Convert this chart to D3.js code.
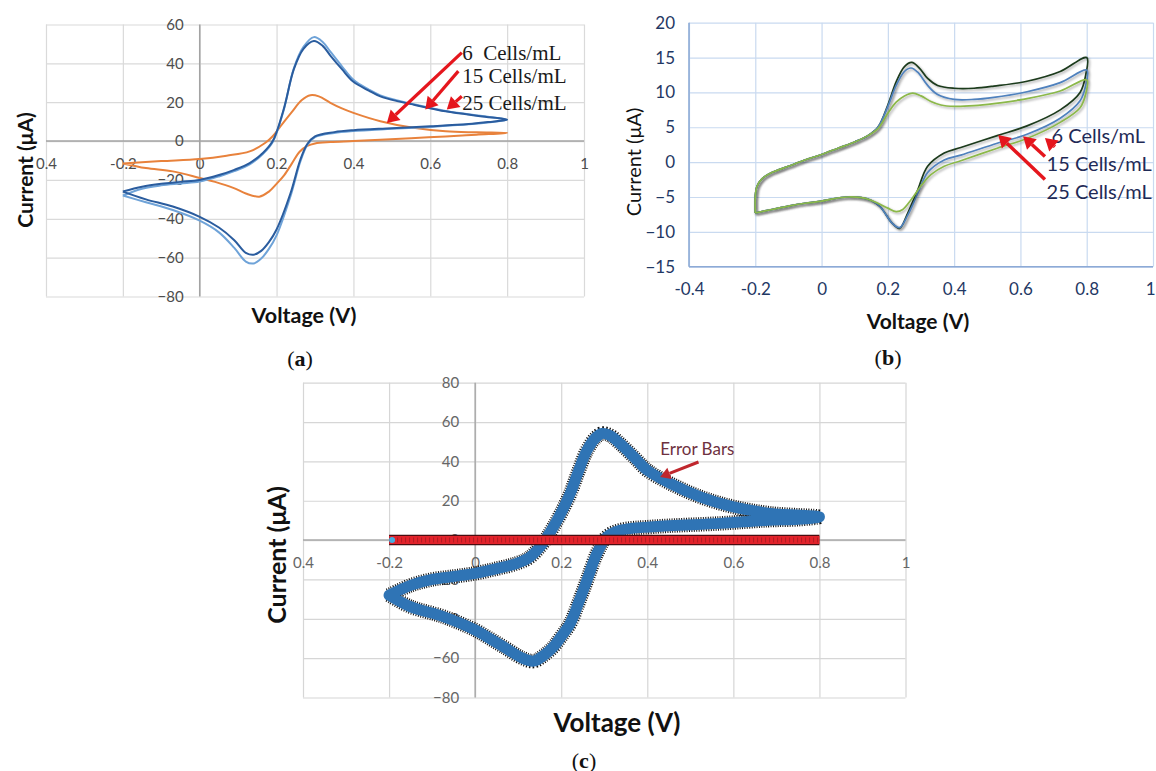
<!DOCTYPE html>
<html>
<head>
<meta charset="utf-8">
<script src="https://cdn.jsdelivr.net/npm/d3@7/dist/d3.min.js"></script>
<style>
body { margin: 0; background: #fff; }
svg { display: block; }
text { white-space: pre; }
</style>
</head>
<body>
<svg width="1156" height="771"></svg>
<script>
// ---- shared axis ticks
const xTicks = [-0.4, -0.2, 0, 0.2, 0.4, 0.6, 0.8, 1];

// ---- panel (a)
const aXLabels = ["0.4", "-0.2", "0", "0.2", "0.4", "0.6", "0.8", "1"];
const aYTicks = [60, 40, 20, 0, -20, -40, -60, -80];
const aLegend = ["6  Cells/mL", "15 Cells/mL", "25 Cells/mL"];
const aDarkBlue = [
 [-0.2, -26], [-0.15, -23.5], [-0.1, -22], [-0.05, -21], [0, -20], [0.05, -17.5], [0.09, -14.8],
 [0.13, -11.3], [0.165, -6], [0.19, 0], [0.218, 16], [0.245, 37], [0.27, 47.5], [0.297, 51.5],
 [0.32, 49], [0.34, 44], [0.37, 37], [0.4, 30.5], [0.44, 26], [0.47, 23], [0.52, 20.3],
 [0.56, 18.6], [0.64, 15.3], [0.73, 12.8], [0.8, 11],
 [0.75, 9.8], [0.7, 8.8], [0.6, 7.6], [0.5, 6.6], [0.4, 5.6], [0.35, 4.6], [0.3, 2.4], [0.28, -1.5],
 [0.262, -9.5], [0.236, -27], [0.2, -45.5], [0.18, -52], [0.16, -56.5], [0.14, -58.5], [0.12, -57.5],
 [0.09, -51], [0.05, -44.5], [0, -39], [-0.07, -33.7], [-0.14, -30], [-0.2, -26]
];
const aLightBlue = [
 [-0.2, -28], [-0.15, -24.5], [-0.1, -22.8], [-0.05, -21.8], [0, -20.8], [0.05, -18.2], [0.09, -15.5],
 [0.13, -12], [0.165, -6.5], [0.19, -0.5], [0.218, 15.5], [0.245, 37.5], [0.27, 48.5], [0.297, 53.5],
 [0.32, 51], [0.34, 46], [0.37, 38.5], [0.4, 31.5], [0.44, 26.5], [0.47, 23.5], [0.52, 20.6],
 [0.56, 18.8], [0.64, 15.5], [0.73, 13], [0.8, 11],
 [0.75, 9.6], [0.7, 8.6], [0.6, 7.3], [0.5, 6.3], [0.4, 5.2], [0.35, 4.2], [0.3, 2], [0.28, -2],
 [0.262, -10.5], [0.236, -28.5], [0.2, -48.5], [0.18, -55.5], [0.16, -60.5], [0.14, -63], [0.12, -62],
 [0.09, -55], [0.05, -47], [0, -41], [-0.07, -35.5], [-0.14, -31.5], [-0.2, -28]
];
const aOrange = [
 [-0.2, -11.5], [-0.1, -10.3], [0, -9.2], [0.07, -7.5], [0.13, -5.3], [0.17, -1], [0.19, 2.5],
 [0.21, 7.6], [0.24, 15], [0.265, 21], [0.288, 23.6], [0.31, 23], [0.34, 19.7], [0.37, 16.8],
 [0.4, 14.5], [0.47, 10.2], [0.556, 6.8], [0.64, 5], [0.72, 4.5], [0.8, 4.2],
 [0.72, 3.3], [0.64, 2.4], [0.55, 1.5], [0.47, 0.7], [0.4, 0], [0.34, -0.5], [0.3, -1.2], [0.28, -2.5],
 [0.26, -5.5], [0.24, -11.5], [0.22, -17.5], [0.2, -22], [0.18, -26], [0.155, -28.6], [0.12, -27],
 [0.089, -24.2], [0.04, -21], [0, -19], [-0.07, -15.6], [-0.14, -13.9], [-0.2, -11.5]
];
// legend text anchors and arrows (voltage, current)
const aLegendPos = [[0.683, 45.5], [0.683, 33.4], [0.683, 19.7]];
const aArrows = [
 [[0.682, 45.5], [0.487, 9.3]],
 [[0.673, 36], [0.587, 16.2]],
 [[0.682, 23.1], [0.643, 16.2]]
];

// ---- panel (b)
const bXLabels = ["-0.4", "-0.2", "0", "0.2", "0.4", "0.6", "0.8", "1"];
const bYTicks = [20, 15, 10, 5, 0, -5, -10, -15];
const bLegend = ["6 Cells/mL", "15 Cells/mL", "25 Cells/mL"];
const bShared = [
 [-0.2, -7.3], [-0.2, -5], [-0.195, -3.5], [-0.18, -2.4], [-0.15, -1.5], [-0.1, -0.6],
 [-0.05, 0.3], [0, 1.1], [0.05, 2], [0.1, 2.9], [0.14, 3.8]
];
const bSharedBack = [
 [0.12, -5.1], [0.08, -5], [0.03, -5.3], [0, -5.6], [-0.05, -5.9], [-0.1, -6.3], [-0.15, -6.8], [-0.2, -7.3]
];
const bDark = [
 [0.17, 5], [0.2, 8.2], [0.225, 11.5], [0.25, 13.7], [0.272, 14.3], [0.295, 13.5], [0.32, 12],
 [0.35, 11], [0.4, 10.6], [0.46, 10.6], [0.52, 10.9], [0.62, 11.6], [0.72, 13], [0.8, 15],
 [0.797, 12.5], [0.78, 10], [0.72, 7.5], [0.62, 5.2], [0.53, 3.8], [0.42, 2.1], [0.37, 1.3],
 [0.32, -0.6], [0.29, -4], [0.26, -7.3], [0.235, -9.5], [0.212, -8.7], [0.177, -6.4], [0.15, -5.5]
];
const bBlue = [
 [0.17, 5], [0.2, 8], [0.225, 11], [0.25, 13], [0.27, 13.5], [0.29, 12.9], [0.32, 11],
 [0.35, 9.7], [0.4, 9], [0.46, 9], [0.52, 9.3], [0.62, 10.1], [0.72, 11.4], [0.8, 13.2],
 [0.797, 11], [0.78, 8.8], [0.72, 6.3], [0.62, 4], [0.53, 2.7], [0.42, 1], [0.37, 0.3],
 [0.32, -1.5], [0.29, -4.5], [0.26, -7.6], [0.235, -9.4], [0.212, -8.7], [0.177, -6.4], [0.15, -5.5]
];
const bGreen = [
 [0.17, 4.8], [0.2, 7], [0.225, 8.6], [0.25, 9.5], [0.275, 9.9], [0.3, 9.5], [0.33, 8.7],
 [0.36, 8.2], [0.4, 8], [0.46, 8.1], [0.52, 8.4], [0.62, 9.1], [0.72, 10.2], [0.8, 11.8],
 [0.797, 9.8], [0.78, 7.8], [0.72, 5.7], [0.62, 3.4], [0.53, 2], [0.42, 0.2], [0.37, -0.6],
 [0.33, -1.8], [0.3, -3.4], [0.27, -5.4], [0.245, -6.8], [0.225, -7.1], [0.2, -6.6], [0.17, -5.9],
 [0.145, -5.4]
];
const bLegendPos = [[0.694, 3.9], [0.679, -0.15], [0.679, -4.2]];
const bArrows = [
 [[0.674, -2.5], [0.533, 3.9]],
 [[0.674, 0.8], [0.608, 3.7]],
 [[0.704, 2.2], [0.674, 3.45]]
];

// ---- panel (c)
const cXLabels = ["0.4", "-0.2", "0", "0.2", "0.4", "0.6", "0.8", "1"];
const cYTicks = [80, 60, 40, 20, 0, -20, -40, -60, -80];
const cBlue = [
 [-0.2, -28], [-0.15, -23], [-0.1, -20], [-0.05, -18.5], [0, -16.9], [0.05, -14.5], [0.097, -11.8],
 [0.125, -9], [0.151, -3.4], [0.167, 1.5], [0.182, 6.8], [0.2, 14], [0.221, 23.7], [0.24, 35],
 [0.26, 45.7], [0.28, 52], [0.295, 54.2], [0.315, 53], [0.337, 49], [0.37, 42], [0.4, 35.5],
 [0.453, 28.8], [0.523, 22], [0.6, 16.9], [0.686, 13.6], [0.8, 11.8],
 [0.75, 10.6], [0.68, 10.1], [0.57, 8.5], [0.415, 6.8], [0.337, 5], [0.306, 1.7], [0.283, -6.8],
 [0.26, -20.3], [0.24, -32], [0.221, -42.3], [0.2, -49], [0.182, -54.2], [0.16, -58.5],
 [0.136, -61.5], [0.11, -60], [0.066, -54.2], [0.03, -49.5], [0, -45.7], [-0.074, -38.9],
 [-0.151, -33.8], [-0.2, -28]
];
const cErrV = [-0.2, 0.8];
const cErrI = [0, 0];
const cNote = "Error Bars";
const cNotePos = [0.43, 46.5];
const cArrow = [[0.519, 39.7], [0.43, 32.1]];

const svg = d3.select("svg");

svg.append("defs").append("filter")
 .attr("id", "shadow")
 .attr("x", "-5%").attr("y", "-5%").attr("width", "110%").attr("height", "110%")
 .append("feDropShadow")
 .attr("dx", 1.5).attr("dy", 1.5).attr("stdDeviation", 1.3)
 .attr("flood-color", "#000").attr("flood-opacity", 0.35);

function panel(o) {
 const g = svg.append("g");
 const x = d3.scaleLinear().domain([-0.4, 1]).range([o.left, o.right]);
 const y = d3.scaleLinear().domain(o.yDomain).range([o.bottom, o.top]);

 g.append("g")
  .attr("transform", `translate(0,${o.bottom})`)
  .call(d3.axisBottom(x).tickValues(xTicks).tickSize(-(o.bottom - o.top)).tickFormat(""))
  .call(s => s.select(".domain").remove())
  .selectAll("line").attr("stroke", o.grid).attr("stroke-width", 1.2);

 g.append("g")
  .attr("transform", `translate(${o.left},0)`)
  .call(d3.axisLeft(y).tickValues(o.yTicks).tickSize(-(o.right - o.left)).tickFormat(""))
  .call(s => s.select(".domain").remove())
  .selectAll("line").attr("stroke", o.grid).attr("stroke-width", 1.2);

 return { g, x, y };
}

function tickLabels(p, o, xAt, yAt) {
 const xa = p.g.append("g")
  .attr("transform", `translate(0,${xAt})`)
  .call(d3.axisBottom(p.x).tickValues(xTicks).tickSize(0).tickPadding(o.xPad)
   .tickFormat((d, i) => o.xLabels[i]));
 const ya = p.g.append("g")
  .attr("transform", `translate(${yAt},0)`)
  .call(d3.axisLeft(p.y).tickValues(o.yTicks).tickSize(0).tickPadding(o.yPad));
 [xa, ya].forEach(a => {
  a.select(".domain").remove();
  a.selectAll("text")
   .attr("font-family", "Lato, sans-serif")
   .attr("font-size", o.tickSize)
   .attr("fill", o.tickColor);
 });
 return xa;
}

function arrow(p, from, to, color, width, head) {
 const x0 = p.x(from[0]), y0 = p.y(from[1]);
 const x1 = p.x(to[0]), y1 = p.y(to[1]);
 const ang = Math.atan2(y1 - y0, x1 - x0);
 const bx = x1 - Math.cos(ang) * head, by = y1 - Math.sin(ang) * head;
 p.g.append("line")
  .attr("x1", x0).attr("y1", y0).attr("x2", bx).attr("y2", by)
  .attr("stroke", color).attr("stroke-width", width);
 const w = head * 0.6;
 p.g.append("polygon")
  .attr("points", [
   [x1, y1],
   [bx + Math.sin(ang) * w, by - Math.cos(ang) * w],
   [bx - Math.sin(ang) * w, by + Math.cos(ang) * w]
  ].map(q => q.join(",")).join(" "))
  .attr("fill", color);
}

function title(x, y, txt, size, weight, rotate) {
 svg.append("text")
  .attr("transform", `translate(${x},${y})` + (rotate ? " rotate(-90)" : ""))
  .attr("text-anchor", "middle")
  .attr("dominant-baseline", "central")
  .attr("font-family", "Lato, sans-serif")
  .attr("font-size", size)
  .attr("font-weight", weight)
  .attr("fill", "#111")
  .text(txt);
}

function panelTag(x, y, letter) {
 const t = svg.append("text")
  .attr("x", x).attr("y", y)
  .attr("text-anchor", "middle")
  .attr("dominant-baseline", "central")
  .attr("font-family", "'Liberation Serif', serif")
  .attr("font-size", 22)
  .attr("fill", "#111");
 t.append("tspan").text("(");
 t.append("tspan").attr("font-weight", "bold").text(letter);
 t.append("tspan").text(")");
}

const smooth = d3.curveCatmullRom.alpha(0.5);

// ================= panel (a)
const oa = { left: 46, right: 584, top: 24.5, bottom: 296.5, yDomain: [-80, 60], yTicks: aYTicks,
 grid: "#dadada", xLabels: aXLabels, xPad: 17, yPad: 16, tickSize: 15, tickColor: "#4d4d4d" };
const pa = panel(oa);
pa.g.append("line").attr("x1", pa.x(0)).attr("x2", pa.x(0)).attr("y1", oa.top).attr("y2", oa.bottom)
 .attr("stroke", "#a3a3a3").attr("stroke-width", 1.5);
pa.g.append("line").attr("x1", oa.left).attr("x2", oa.right).attr("y1", pa.y(0)).attr("y2", pa.y(0))
 .attr("stroke", "#a3a3a3").attr("stroke-width", 1.5);
tickLabels(pa, oa, pa.y(0), pa.x(0));

const lineA = d3.line().x(d => pa.x(d[0])).y(d => pa.y(d[1])).curve(smooth);
[[aOrange, "#e8823c"], [aLightBlue, "#6fa3d8"], [aDarkBlue, "#2a5c9e"]].forEach(([d, c]) => {
 pa.g.append("path").datum(d).attr("d", lineA)
  .attr("fill", "none").attr("stroke", c).attr("stroke-width", 2).attr("stroke-linejoin", "round");
});

aLegend.forEach((t, i) => {
 pa.g.append("text")
  .attr("x", pa.x(aLegendPos[i][0])).attr("y", pa.y(aLegendPos[i][1]))
  .attr("dominant-baseline", "central")
  .attr("font-family", "'Liberation Serif', serif")
  .attr("font-size", 21).attr("fill", "#1a1a1a")
  .text(t);
});
aArrows.forEach(a => arrow(pa, a[0], a[1], "#e5161d", 3.2, 12));

title(24, 170, "Current (μA)", 21, "bold", true);
title(304, 315, "Voltage (V)", 21.5, "bold", false);
panelTag(300, 358, "a");

// ================= panel (b)
const ob = { left: 689, right: 1153, top: 22.7, bottom: 266.7, yDomain: [-15, 20], yTicks: bYTicks,
 grid: "#c9daf0", xLabels: bXLabels, xPad: 16, yPad: 14, tickSize: 17, tickColor: "#1f3864" };
const pb = panel(ob);
pb.g.append("line").attr("x1", ob.left).attr("x2", ob.left).attr("y1", ob.top).attr("y2", ob.bottom)
 .attr("stroke", "#8daad6").attr("stroke-width", 1.6);
pb.g.append("line").attr("x1", ob.left).attr("x2", ob.right).attr("y1", ob.bottom).attr("y2", ob.bottom)
 .attr("stroke", "#8daad6").attr("stroke-width", 1.6);
const bxa = tickLabels(pb, ob, ob.bottom, ob.left);
// last x label sits on the page edge; keep it inside
bxa.selectAll(".tick text").filter(d => d === 1).attr("text-anchor", "end").attr("dx", 2);

const lineB = d3.line().x(d => pb.x(d[0])).y(d => pb.y(d[1])).curve(smooth);
[[bDark, "#1c3a1c"], [bBlue, "#4f81bd"], [bGreen, "#8cb84a"]].forEach(([d, c]) => {
 pb.g.append("path").datum(bShared.concat(d, bSharedBack)).attr("d", lineB)
  .attr("fill", "none").attr("stroke", c).attr("stroke-width", 1.7)
  .attr("stroke-linejoin", "round").attr("filter", "url(#shadow)");
});

bLegend.forEach((t, i) => {
 pb.g.append("text")
  .attr("x", pb.x(bLegendPos[i][0])).attr("y", pb.y(bLegendPos[i][1]))
  .attr("dominant-baseline", "central")
  .attr("font-family", "Lato, sans-serif")
  .attr("font-size", 20).attr("fill", "#1f2a56")
  .text(t);
});
bArrows.forEach(a => arrow(pb, a[0], a[1], "#e5161d", 3.5, 12));

title(633, 162, "Current (μA)", 20, "normal", true);
title(918, 320, "Voltage (V)", 21, "bold", false);
panelTag(888, 357, "b");

// ================= panel (c)
const oc = { left: 303, right: 905.5, top: 382.7, bottom: 697.5, yDomain: [-80, 80], yTicks: cYTicks,
 grid: "#d6d6d6", xLabels: cXLabels, xPad: 17, yPad: 16, tickSize: 15, tickColor: "#666" };
const pc = panel(oc);
pc.g.append("line").attr("x1", pc.x(0)).attr("x2", pc.x(0)).attr("y1", oc.top).attr("y2", oc.bottom)
 .attr("stroke", "#a8a8a8").attr("stroke-width", 1.5);
pc.g.append("line").attr("x1", oc.left).attr("x2", oc.right).attr("y1", pc.y(0)).attr("y2", pc.y(0))
 .attr("stroke", "#a8a8a8").attr("stroke-width", 1.5);
tickLabels(pc, oc, pc.y(0), pc.x(0));

const lineC = d3.line().x(d => pc.x(d[0])).y(d => pc.y(d[1])).curve(smooth);
// error bar fringe under the blue trace
pc.g.append("path").datum(cBlue).attr("d", lineC)
 .attr("fill", "none").attr("stroke", "#111").attr("stroke-width", 14.5)
 .attr("stroke-dasharray", "1 1.4").attr("stroke-linejoin", "round");
pc.g.append("path").datum(cBlue).attr("d", lineC)
 .attr("fill", "none").attr("stroke", "#2f74b5").attr("stroke-width", 11)
 .attr("stroke-linejoin", "round").attr("stroke-linecap", "round");

// red error-bar series on zero
const errPts = cErrV.map((v, i) => [v, cErrI[i]]);
const lineErr = d3.line().x(d => pc.x(d[0])).y(d => pc.y(d[1]));
pc.g.append("path").datum(errPts).attr("d", lineErr)
 .attr("stroke", "#4a0c10").attr("stroke-width", 10.5).attr("stroke-linecap", "butt");
pc.g.append("path").datum(errPts).attr("d", lineErr)
 .attr("stroke", "#e2232b").attr("stroke-width", 8);
pc.g.append("path").datum(errPts).attr("d", lineErr)
 .attr("stroke", "#9c1a20").attr("stroke-width", 5).attr("stroke-dasharray", "1 3").attr("opacity", 0.7);
pc.g.append("circle").attr("cx", pc.x(cErrV[0]) + 3).attr("cy", pc.y(cErrI[0])).attr("r", 3)
 .attr("fill", "#48aee0");

pc.g.append("text")
 .attr("x", pc.x(cNotePos[0])).attr("y", pc.y(cNotePos[1]))
 .attr("dominant-baseline", "central")
 .attr("font-family", "Lato, sans-serif")
 .attr("font-size", 17).attr("fill", "#6e3140")
 .text(cNote);
arrow(pc, cArrow[0], cArrow[1], "#c0272d", 3, 10);

title(276, 555, "Current (μA)", 25, "bold", true);
title(617, 722, "Voltage (V)", 26, "bold", false);
panelTag(584, 760, "c");
</script>
</body>
</html>
